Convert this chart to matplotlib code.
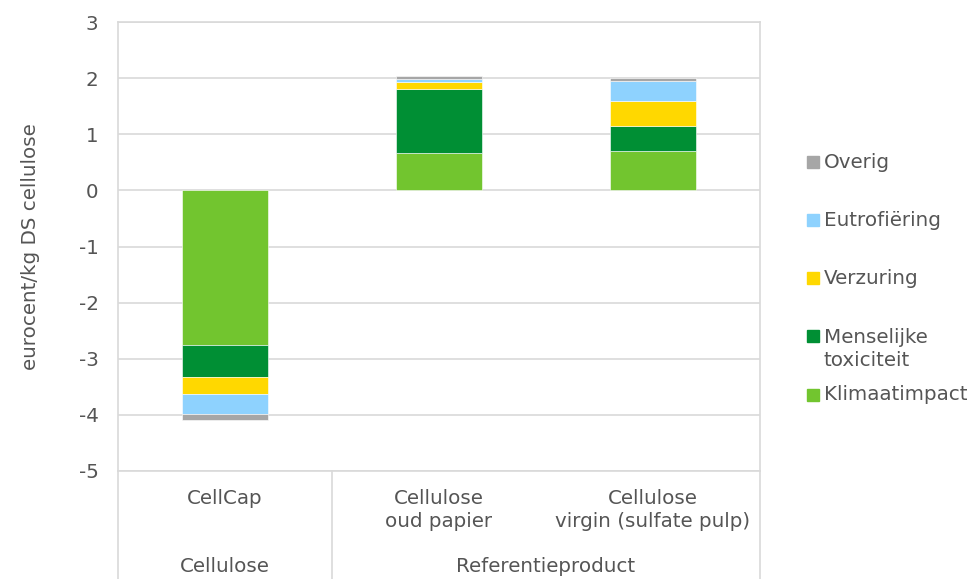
import numpy as np
import matplotlib
matplotlib.use("Agg")
import matplotlib.pyplot as plt
from matplotlib.patches import Rectangle
from matplotlib.lines import Line2D

plt.rcParams['font.family'] = ['DejaVu Sans']
plt.rcParams['axes.unicode_minus'] = False

# categories and groups
products = ["CellCap", "Cellulose\noud papier", "Cellulose\nvirgin (sulfate pulp)"]
groups = ["Cellulose", "Referentieproduct"]
group_spans = [(0, 0), (1, 2)]

# impact per category (eurocent/kg DS cellulose), stacked bottom to top
series = ["Klimaatimpact", "Menselijke\ntoxiciteit", "Verzuring", "Eutrofiëring", "Overig"]
klimaat = [-2.75, 0.66, 0.70]
menselijk = [-0.57, 1.14, 0.45]
verzuring = [-0.30, 0.13, 0.45]
eutrof = [-0.37, 0.05, 0.34]
overig = [-0.11, 0.05, 0.07]
colors = ["#72C52F", "#008F34", "#FFD800", "#8ED2FE", "#A6A6A6"]

values = [klimaat, menselijk, verzuring, eutrof, overig]
txt = "#555555"
grid = "#D9D9D9"
fs = 14.3

fig = plt.figure(figsize=(9.78, 5.79), dpi=100)
W, H = 978, 579
ax = fig.add_axes([118 / W, 1 - 471 / H, (760 - 118) / W, (471 - 22) / H])

x = np.arange(len(products))
bottom = np.zeros(len(products))
for vals, c in zip(values, colors):
    vals = np.array(vals)
    ax.bar(x, vals, 0.4, bottom=bottom, color=c, edgecolor="white", linewidth=0.4, zorder=3)
    bottom = bottom + vals

ax.set_xlim(-0.5, 2.5)
ax.set_ylim(-5, 3)
ax.set_yticks(np.arange(-5, 4, 1))
ax.yaxis.grid(True, color=grid, linewidth=1.2, zorder=0)
ax.set_axisbelow(True)
for s in ax.spines.values():
    s.set_color(grid)
    s.set_linewidth(1.2)
ax.tick_params(axis="y", length=0, pad=14, labelsize=fs, labelcolor=txt)
ax.set_xticks(x)
ax.set_xticklabels(products, fontsize=fs, color=txt, linespacing=1.25)
ax.tick_params(axis="x", length=0, pad=13)

ax.text(-0.137, 0.5, "eurocent/kg DS cellulose", transform=ax.transAxes, rotation=90,
        ha="center", va="center", fontsize=fs, color=txt)

# multi-level category axis lines and group labels
depth = -(H - 471) / (471 - 22)
trans = ax.get_xaxis_transform()
for xv in [-0.5, 0.5, 2.5]:
    ax.add_line(Line2D([xv, xv], [0, depth], transform=trans, color=grid,
                       linewidth=1.2, clip_on=False))
for g, (a, b) in zip(groups, group_spans):
    ax.text((a + b) / 2, -(567 - 471) / (471 - 22), g, transform=trans,
            ha="center", va="center", fontsize=fs, color=txt)

# legend, top entry first
leg_marker_y = [162, 220, 278, 336, 395]
leg_text_y = [162, 220, 278, 349, 395]
for i, (name, c) in enumerate(zip(series[::-1], colors[::-1])):
    my = leg_marker_y[i]
    fig.patches.append(Rectangle((807 / W, 1 - (my + 6) / H), 12 / W, 12 / H,
                                 transform=fig.transFigure, color=c, figure=fig))
    fig.text(824 / W, 1 - leg_text_y[i] / H, name, ha="left", va="center",
             fontsize=fs, color=txt, linespacing=1.25)

fig.savefig("out.png", dpi=100)
